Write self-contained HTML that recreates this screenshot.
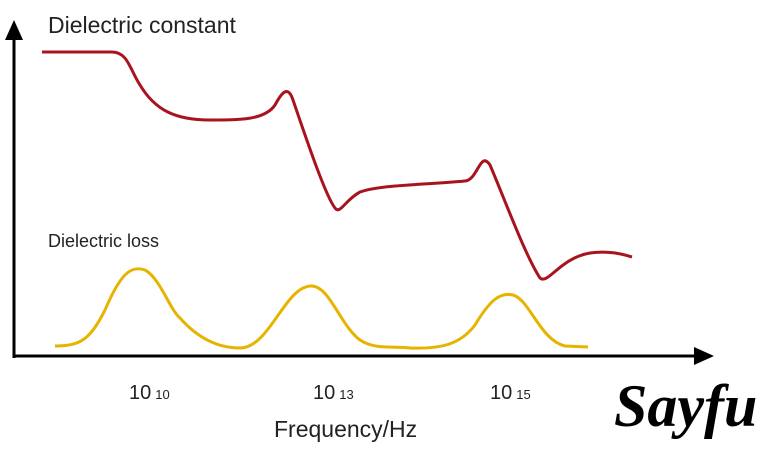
<!DOCTYPE html>
<html><head><style>body{margin:0;background:#fff}svg{display:block}</style></head>
<body>
<svg width="768" height="450" viewBox="0 0 768 450" xmlns="http://www.w3.org/2000/svg">
<rect width="768" height="450" fill="#fff"/>
<line x1="14" y1="36" x2="14" y2="358" stroke="#000" stroke-width="3"/>
<polygon points="14,20 5,40 23,40" fill="#000"/>
<line x1="13" y1="356" x2="700" y2="356" stroke="#000" stroke-width="3"/>
<polygon points="714,356 694,347 694,365" fill="#000"/>
<path d="M42,52 L112,52 C128,52 130,70 140,85 C155,110 175,120 210,120 C240,120 265,120 275,105 C282,92 288,85 293,100 C305,135 325,195 335,208 C340,215 345,200 360,192 C380,185 420,185 465,181 C478,180 480,150 490,165 C505,200 525,255 540,278 C548,285 560,258 590,253 C610,250 625,255 632,257" fill="none" stroke="#a8141e" stroke-width="3"/>
<path d="M55,346 C80,346 90,340 105,310 C120,275 130,265 145,270 C160,278 170,310 180,318 C195,335 215,348 240,348 C270,348 285,285 312,286 C330,287 340,325 360,340 C375,350 395,346 410,348 C440,349 460,345 475,325 C490,300 500,292 513,295 C530,300 540,340 565,346 L588,347" fill="none" stroke="#e6b400" stroke-width="3"/>
<g font-family="Liberation Sans, sans-serif" fill="#222">
<text x="48" y="33" font-size="23">Dielectric constant</text>
<text x="48" y="247" font-size="18">Dielectric loss</text>
<text x="129" y="399" font-size="20">10<tspan font-size="13" dx="4">10</tspan></text>
<text x="313" y="399" font-size="20">10<tspan font-size="13" dx="4">13</tspan></text>
<text x="490" y="399" font-size="20">10<tspan font-size="13" dx="4">15</tspan></text>
<text x="274" y="437" font-size="23">Frequency/Hz</text>
</g>
<text x="614" y="426" font-family="Liberation Serif, serif" font-style="italic" font-weight="bold" font-size="60" fill="#000">Sayfu</text>
</svg>
</body></html>
